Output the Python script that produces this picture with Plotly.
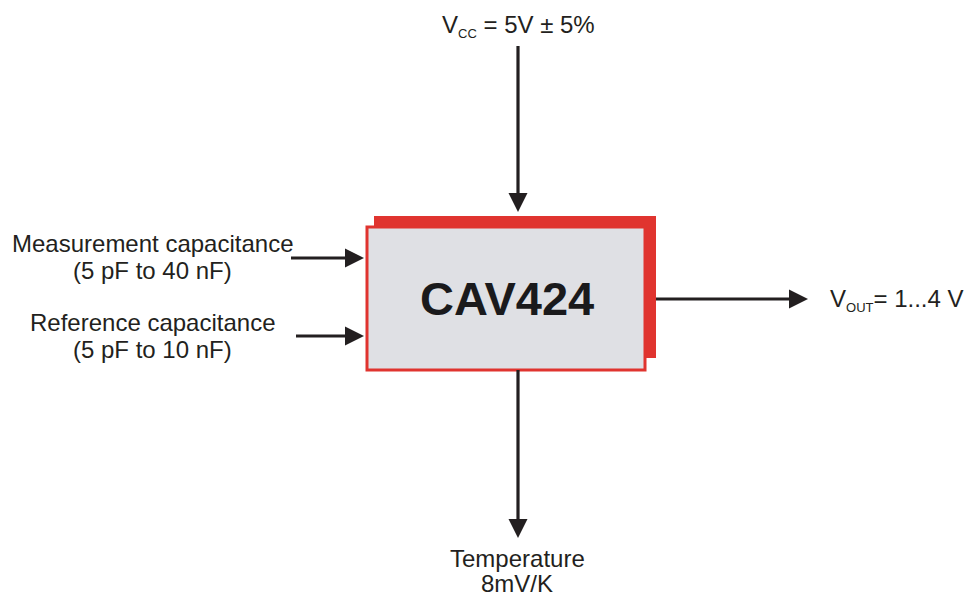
import math
import plotly.graph_objects as go

# ---- content ----
block_label = "CAV424"
supply_label = ["V", "CC", " = 5V ± 5%"]
output_label = ["V", "OUT", "= 1...4 V"]
input_line1 = ["Measurement capacitance", "Reference capacitance"]
input_line2 = ["(5 pF to 40 nF)", "(5 pF to 10 nF)"]
temp_lines = ["Temperature", "8mV/K"]

# ---- geometry (pixel canvas of the page) ----
W, H = 966, 595
back_box = dict(x0=374, y0=216, x1=656, y1=358)
front_box = dict(x0=367, y0=227, x1=645, y1=370)
input_y = [258, 336]
input_x0 = [291, 296]
label_x = 152
label_y1 = [243, 322]
label_y2 = [270, 349]

TXT = "#231f20"
RED = "#e0342f"
FILL = "#dfe0e4"
FONT = "Liberation Sans, Arial, sans-serif"

shapes = []
annotations = []


def arrow(x0, y0, x1, y1, head=19, half=9.5, lw=3.2):
    L = math.hypot(x1 - x0, y1 - y0)
    ux, uy = (x1 - x0) / L, (y1 - y0) / L
    bx, by = x1 - ux * head, y1 - uy * head
    shapes.append(dict(type="line", x0=x0, y0=y0, x1=bx + ux * 2, y1=by + uy * 2,
                       line=dict(color=TXT, width=lw), layer="above"))
    px, py = -uy, ux
    path = (f"M {x1},{y1} L {bx + px * half},{by + py * half} "
            f"L {bx - px * half},{by - py * half} Z")
    shapes.append(dict(type="path", path=path, fillcolor=TXT,
                       line=dict(color=TXT, width=0), layer="above"))


def text(x, y, s, size=24, xanchor="center", bold=False, color=TXT):
    annotations.append(dict(x=x, y=y, xref="x", yref="y", text=s, showarrow=False,
                            xanchor=xanchor, yanchor="middle",
                            font=dict(family=FONT, size=size, color=color,
                                      weight=700 if bold else 400)))


# block
shapes.append(dict(type="rect", **back_box, fillcolor=RED, line=dict(width=0), layer="below"))
shapes.append(dict(type="rect", **front_box, fillcolor=FILL,
                   line=dict(color=RED, width=3), layer="below"))
text(507, 298, block_label, size=47, bold=True, color="#1a1a1c")

# supply arrow
arrow(518, 46, 518, 212)
sub = '<span style="font-size:13px">{}</span>'
text(518, 26, f"{supply_label[0]}<sub>{sub.format(supply_label[1])}</sub>{supply_label[2]}")

# output arrow
arrow(656, 299, 808, 299)
text(828, 300, f"{output_label[0]}<sub>{sub.format(output_label[1])}</sub>{output_label[2]}",
     xanchor="left")

# inputs
for i in range(len(input_line1)):
    arrow(input_x0[i], input_y[i], 364, input_y[i])
    text(label_x, label_y1[i], input_line1[i])
    text(label_x, label_y2[i], input_line2[i])

# temperature
arrow(518, 370, 518, 538)
text(517, 558, temp_lines[0])
text(517, 583, temp_lines[1])

fig = go.Figure()
fig.update_layout(
    width=W, height=H, autosize=False,
    margin=dict(l=0, r=0, t=0, b=0),
    paper_bgcolor="white", plot_bgcolor="white",
    xaxis=dict(range=[0, W], visible=False, fixedrange=True),
    yaxis=dict(range=[H, 0], visible=False, fixedrange=True),
    shapes=shapes, annotations=annotations, showlegend=False,
)
fig.write_html(
    "out.html",
    config=dict(displayModeBar=False),
    post_script=("document.body.style.margin='0';"
                 "document.body.style.overflow='hidden';"
                 "document.documentElement.style.overflow='hidden';"),
)
